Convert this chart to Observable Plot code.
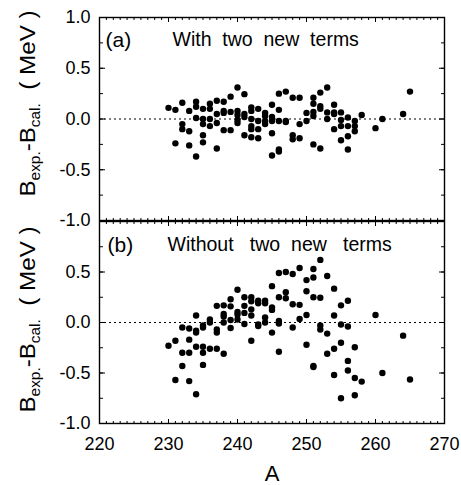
<!DOCTYPE html>
<html>
<head>
<meta charset="utf-8">
<script src="https://cdn.jsdelivr.net/npm/d3@7"></script>
<script src="https://cdn.jsdelivr.net/npm/@observablehq/plot@0.6"></script>
<style>
  body { margin: 0; background: #fff; }
  #chart { position: relative; width: 461px; height: 485px; font-family: Arial, "Liberation Sans", sans-serif; }
  #chart svg { position: absolute; left: 0; }
  #chart text { white-space: pre; }
</style>
</head>
<body>
<div id="chart"></div>
<script>
// ---- data ----
const xTicks = [220, 230, 240, 250, 260, 270];
const yTicksTop = [-1.0, -0.5, 0.0, 0.5, 1.0];
const yTicksBottom = [-1.0, -0.5, 0.0, 0.5];

// panel (a): with two new terms
const massA = [230,
  231,231, 232,232,232, 233,233,233, 234,234,234,234,
  235,235,235,235,235, 236,236,236,236, 237,237,237,237,
  238,238,238,238, 239,239,239, 240,240,240,240,240,
  241,241,241,241, 242,242,242,242,242,242, 243,243,243,243,
  244,244,244,244, 245,245,245,245,245, 246,246,246,246,246,
  247,247,247, 248,248,248, 249,249,249, 250,250,
  251,251,251,251,251, 252,252,252,252, 253,253,253,
  254,254,254,254, 255,255,255,255, 256,256,256,256,
  257,257,257, 258, 260, 261, 264, 265];
const diffWith = [0.11,
  0.09,-0.24, 0.16,-0.05,-0.10, 0.08,-0.12,-0.26, 0.17,0.12,0.01,-0.37,
  0.10,0.00,-0.05,-0.16,-0.23, 0.15,0.10,0.00,-0.07, 0.18,0.05,-0.04,-0.29,
  0.17,0.08,0.06,-0.11, 0.22,0.07,-0.11, 0.31,0.08,0.04,-0.01,-0.04,
  0.245,0.05,0.02,-0.16, 0.115,0.08,0.00,-0.07,-0.10,-0.18, 0.10,-0.02,-0.10,-0.19,
  0.06,0.03,-0.02,-0.05, 0.14,0.02,-0.02,-0.14,-0.36, 0.25,0.09,-0.02,-0.30,-0.32,
  0.27,-0.02,-0.03, 0.21,-0.16,-0.20, 0.21,-0.05,-0.19, 0.06,-0.02,
  0.21,0.15,0.07,0.03,-0.25, 0.26,0.125,0.10,-0.29, 0.31,0.065,0.00,
  0.14,0.065,0.05,-0.10, 0.065,-0.01,-0.07,-0.21, 0.015,-0.07,-0.17,-0.30,
  -0.02,-0.07,-0.12, 0.04, -0.09, 0.00, 0.05, 0.27];

// panel (b): without two new terms
const massB = [230,
  231,231, 232,232,232, 233,233,233,233, 234,234,234,234,234,
  235,235,235,235,235, 236,236,236, 237,237,237,237,
  238,238,238,238,238, 239,239,239,239, 240,240,240,240,
  241,241,241,241, 242,242,242,242,242, 243,243,243,243,
  244,244,244,244, 245,245,245,245, 246,246,246,246,246,
  247,247,247, 248,248,248, 249,249,249, 250,250,250,250,
  251,251,251,251,251, 252,252,252,252, 253,253,253,
  254,254,254,254, 255,255,255,255, 256,256,256,256,
  257,257,257, 258, 260, 261, 264, 265];
const diffWithout = [-0.23,
  -0.18,-0.57, -0.05,-0.30,-0.43, -0.06,-0.17,-0.30,-0.58, 0.07,-0.08,-0.10,-0.24,-0.71,
  -0.03,-0.05,-0.24,-0.30,-0.42, 0.03,0.00,-0.26, 0.165,-0.07,-0.10,-0.26,
  0.17,0.085,0.06,0.00,-0.31, 0.23,0.16,0.025,-0.055, 0.325,0.105,0.08,0.03,
  0.25,0.165,0.095,-0.015, 0.25,0.21,0.13,0.07,-0.18, 0.215,0.19,-0.02,-0.035,
  0.215,0.19,0.05,0.00, 0.36,0.15,0.125,-0.10, 0.49,0.25,0.015,-0.01,-0.29,
  0.50,0.30,0.24, 0.48,0.18,-0.05, 0.54,0.175,0.035, 0.42,0.31,0.075,-0.22,
  0.53,0.445,0.25,-0.43,-0.44, 0.62,0.245,-0.03,-0.07, 0.46,-0.11,-0.31,
  0.335,0.07,-0.26,-0.52, 0.17,-0.02,-0.20,-0.75, 0.215,-0.04,-0.38,-0.475,
  -0.245,-0.55,-0.72, -0.585, 0.075, -0.50, -0.13, -0.565];

const panelTags = ["(a)", "(b)"];
const panelTitles = ["With  two  new  terms", "Without   two  new   terms"];
const xLabel = "A";

// ---- drawing ----
const FONT = "Arial, 'Liberation Sans', sans-serif";
const WIDTH = 461, ML = 99, MR = 17;
const minorX = d3.range(220, 271, 1);
const minorY = d3.range(-1, 1.001, 0.25);

// inward ticks on all four sides: axes shifted onto the opposite edge of the frame
function inwardTicks(frameH) {
  const frameW = WIDTH - ML - MR;
  const n = () => "";
  const common = {tickFormat: n, label: null, stroke: "black", strokeWidth: 1};
  const out = [];
  for (const [vals, len] of [[minorX, 3], [xTicks, 5]]) {
    out.push(Plot.axisX({ticks: vals, anchor: "bottom", dy: -frameH, tickSize: len, ...common}));
    out.push(Plot.axisX({ticks: vals, anchor: "top", dy: frameH, tickSize: len, ...common}));
  }
  for (const [vals, len] of [[minorY, 3], [yTicksTop, 5]]) {
    out.push(Plot.axisY({ticks: vals, anchor: "right", dx: -frameW, tickSize: len, ...common}));
    out.push(Plot.axisY({ticks: vals, anchor: "left", dx: frameW, tickSize: len, ...common}));
  }
  return out;
}

function panel({A, diff, yTicks, tag, title, height, marginTop, marginBottom, showX, tagDx, titleDx, textDy}) {
  const frameH = height - marginTop - marginBottom;
  return Plot.plot({
    width: WIDTH, height, marginLeft: ML, marginRight: MR, marginTop, marginBottom,
    style: {fontFamily: FONT, fontSize: "18px", overflow: "visible", background: "transparent", color: "black"},
    x: {domain: [220, 270]},
    y: {domain: [-1, 1]},
    marks: [
      Plot.ruleY([0], {stroke: "black", strokeWidth: 1, strokeDasharray: "2,3"}),
      ...inwardTicks(frameH),
      Plot.axisY({ticks: yTicks, anchor: "left", tickSize: 0, tickPadding: 9, fontSize: 18,
        tickFormat: d => d.toFixed(1), label: null}),
      showX ? Plot.axisX({ticks: xTicks, anchor: "bottom", tickSize: 0, tickPadding: 14, fontSize: 18, label: null}) : null,
      showX ? Plot.text([xLabel], {frameAnchor: "bottom", dy: 50, fontSize: 22, lineAnchor: "middle"}) : null,
      Plot.dot(A.map((a, i) => ({a, v: diff[i]})), {x: "a", y: "v", r: 3.2, fill: "black", stroke: null}),
      Plot.text([tag], {frameAnchor: "top-left", dx: tagDx, dy: textDy, fontSize: 21, lineAnchor: "top", textAnchor: "start"}),
      Plot.text([title], {frameAnchor: "top-left", dx: titleDx, dy: textDy, fontSize: 19.5, lineAnchor: "top", textAnchor: "start"}),
      Plot.frame({stroke: "black", strokeWidth: 1.4})
    ]
  });
}

function addYLabel(svg, cx, cy) {
  const t = d3.select(svg).append("text")
    .attr("transform", `translate(${cx},${cy}) rotate(-90) scale(1.1,1)`)
    .attr("text-anchor", "middle")
    .attr("font-family", FONT)
    .attr("font-size", 22)
    .attr("fill", "black");
  t.append("tspan").text("B");
  t.append("tspan").attr("font-size", 14).attr("dy", 5).text("exp.");
  t.append("tspan").attr("dy", -5).text("-B");
  t.append("tspan").attr("font-size", 14).attr("dy", 5).text("cal.");
  t.append("tspan").attr("dy", -5).text("  ( MeV )");
}

const chart = document.getElementById("chart");

const bottomPanel = panel({A: massB, diff: diffWithout, yTicks: yTicksBottom, tag: panelTags[1], title: panelTitles[1],
  height: 265, marginTop: 1, marginBottom: 62, showX: true, tagDx: 8, titleDx: 68, textDy: 16});
bottomPanel.style.top = "220px";
addYLabel(bottomPanel, 35, 99.5);
chart.appendChild(bottomPanel);

const topPanel = panel({A: massA, diff: diffWith, yTicks: yTicksTop, tag: panelTags[0], title: panelTitles[0],
  height: 221, marginTop: 17, marginBottom: 1, showX: false, tagDx: 6, titleDx: 73, textDy: 15});
topPanel.style.top = "0px";
addYLabel(topPanel, 35, 103.5);
chart.appendChild(topPanel);
</script>
</body>
</html>
